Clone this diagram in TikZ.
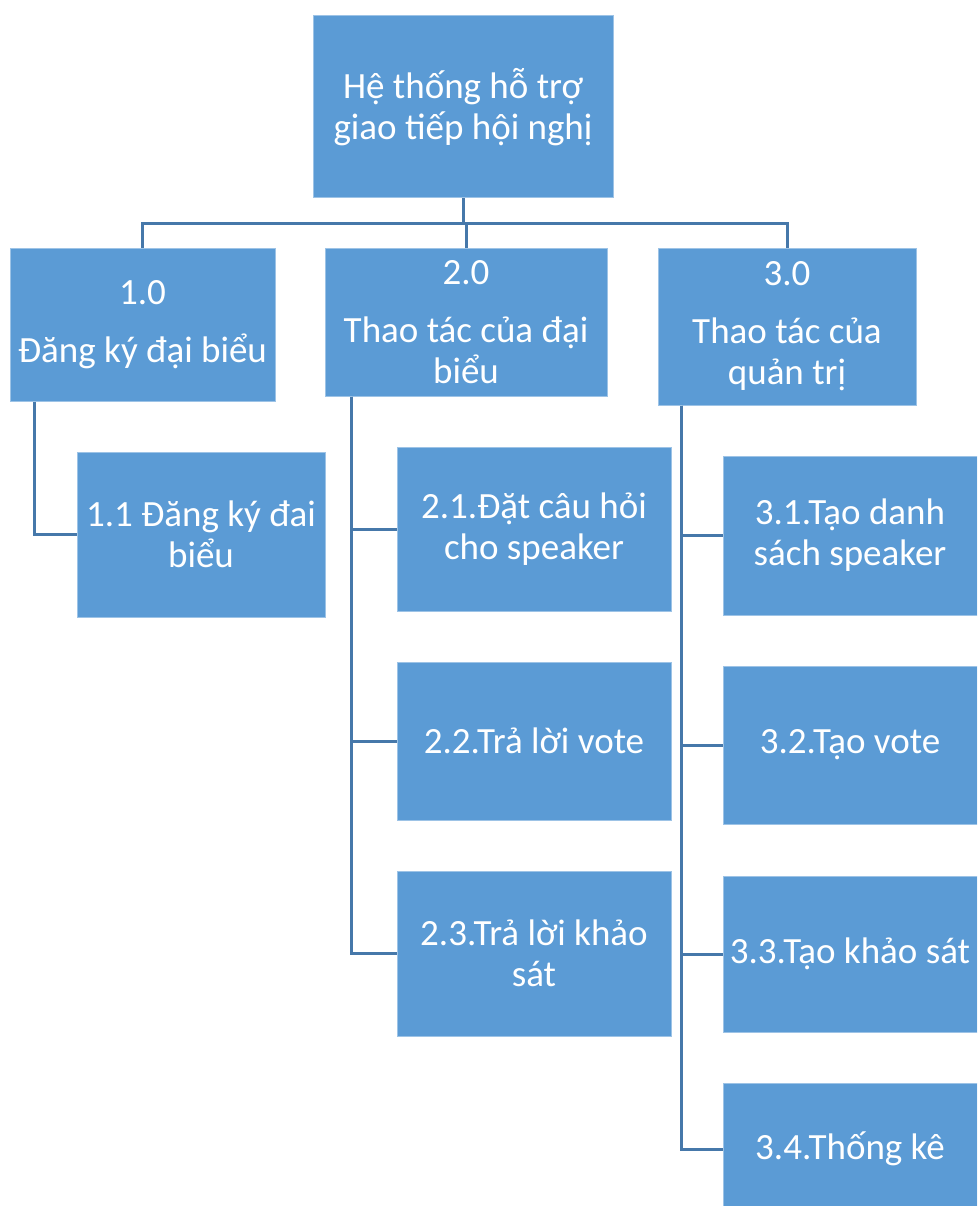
\documentclass[tikz,border=0pt]{standalone}
\usepackage{fontspec}
\setmainfont{Carlito}
\usetikzlibrary{positioning,calc}
\definecolor{boxblue}{RGB}{91,155,213}
\definecolor{linkblue}{RGB}{70,120,170}

\begin{document}
\begin{tikzpicture}[x=1pt, y=-1pt, semithick]
\tikzstyle{block} = [rectangle, draw=boxblue!60!white, line width=1pt, fill=boxblue,
text=white, align=center, inner sep=0pt, font=\fontsize{37}{41}\selectfont]
\tikzstyle{line} = [draw=linkblue, line width=3pt]
\useasboundingbox (0,0) rectangle (977,1206);
\begin{scope}
\clip (0,0) rectangle (977,1206);
\node[block, minimum width=300pt, minimum height=182pt] at (463,107) (root){Hệ thống hỗ trợ\\ giao tiếp hội nghị};
\node[block, minimum width=265pt, minimum height=153pt] at (142.5,324.5) (b1){1.0\\[17pt] Đăng ký đại biểu};
\node[block, minimum width=282pt, minimum height=148pt] at (466,322) (b2){2.0\\[17pt] Thao tác của đại\\ biểu};
\node[block, minimum width=258pt, minimum height=157pt] at (787,326.5) (b3){3.0\\[17pt] Thao tác của\\ quản trị};
\node[block, minimum width=248pt, minimum height=165pt] at (201,534.5) (b11){1.1 Đăng ký đai\\ biểu};
\node[block, minimum width=274pt, minimum height=164pt] at (534,529) (b21){2.1.Đặt câu hỏi\\ cho speaker};
\node[block, minimum width=274pt, minimum height=158pt] at (534,741) (b22){2.2.Trả lời vote};
\node[block, minimum width=274pt, minimum height=165pt] at (534,953.5) (b23){2.3.Trả lời khảo\\ sát};
\node[block, minimum width=254pt, minimum height=159pt] at (850,535.5) (b31){3.1.Tạo danh\\ sách speaker};
\node[block, minimum width=254pt, minimum height=158pt] at (850,745) (b32){3.2.Tạo vote};
\node[block, minimum width=254pt, minimum height=156pt] at (850,954) (b33){3.3.Tạo khảo sát};
\node[block, minimum width=254pt, minimum height=132pt] at (850,1149) (b34){3.4.Thống kê};
\end{scope}
%% connectors
\draw[line] (root.south) -- ++(0,25) -| (b1.north);
\draw[line] (root.south) -- ++(0,25) -| (b2.north);
\draw[line] (root.south) -- ++(0,25) -| (b3.north);
\draw[line] ([xshift=25pt]b1.south west) |- (b11.west);
\draw[line] ([xshift=27pt]b2.south west) |- (b21.west);
\draw[line] ([xshift=27pt]b2.south west) |- (b22.west);
\draw[line] ([xshift=27pt]b2.south west) |- (b23.west);
\draw[line] ([xshift=24pt]b3.south west) |- (b31.west);
\draw[line] ([xshift=24pt]b3.south west) |- (b32.west);
\draw[line] ([xshift=24pt]b3.south west) |- (b33.west);
\draw[line] ([xshift=24pt]b3.south west) |- (b34.west);
\end{tikzpicture}
\end{document}
